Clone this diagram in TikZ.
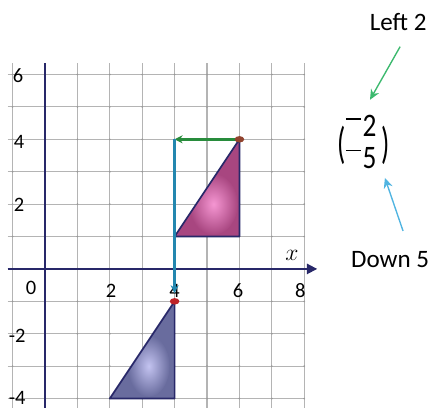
\documentclass[tikz,border=0pt]{standalone}
\usepackage{fontspec}
\usepackage{graphicx}
\setmainfont{Carlito}
\usetikzlibrary{arrows.meta,positioning,calc}
\definecolor{axisnavy}{RGB}{40,40,105}
\definecolor{gridgray}{RGB}{180,180,180}
\definecolor{pinkfill}{RGB}{168,70,128}
\definecolor{pinkglow}{RGB}{245,150,210}
\definecolor{bluefill}{RGB}{105,108,158}
\definecolor{blueglow}{RGB}{195,195,240}
\definecolor{movegreen}{RGB}{40,140,60}
\definecolor{moveteal}{RGB}{35,135,175}
\definecolor{notegreen}{RGB}{60,185,110}
\definecolor{noteblue}{RGB}{80,180,225}
\definecolor{dotred}{RGB}{190,35,40}
\tikzset{
    gridline/.style={draw=gridgray, line width=1pt},
    axisline/.style={draw=axisnavy, line width=1.6pt},
    shapeline/.style={draw=axisnavy, line width=1.5pt, line join=round},
    numlabel/.style={font={\fontsize{18pt}{20}\selectfont}, inner sep=0pt},
    notelabel/.style={font={\fontsize{22pt}{24}\selectfont}, inner sep=1pt},
    movearrow/.style={line width=2.2pt, -{Stealth[length=7pt,width=7pt]}},
    notearrow/.style={line width=1.2pt, -{Stealth[length=9pt,width=8pt]}},
}
\newcommand{\upminus}{\rule[0.52em]{0.55em}{0.045em}\hspace{0.06em}}
\newcommand{\tallparen}[1]{\vcenter{\hbox{\scalebox{1}[1.35]{#1}}}}
\begin{document}
\begin{tikzpicture}
\useasboundingbox (-1.389,-4.29) rectangle (11.944,8.30);

\foreach \x in {-1,...,8}
    \draw[gridline] (\x,-4.3) -- (\x,6.35);
\foreach \y in {-4,...,6}
    \draw[gridline] (-1.15,\y) -- (8,\y);
\foreach \x in {-1,...,8}
    \foreach \y in {-4,...,6}
        \fill[gridgray!85!black] (\x,\y) circle (0.03);

\draw[axisline] (0,-4.3) -- (0,6.35);
\draw[axisline,-{Triangle[length=9pt,width=9pt]}] (-1.15,0) -- (8.4,0);
\node (xlab) at (7.62,0.43) {\fontsize{20pt}{22}\selectfont$x$};

\node[numlabel] (ysix) at (-0.83,5.95) {6};
\node[numlabel] (yfour) at (-0.8,3.93) {4};
\node[numlabel] (ytwo) at (-0.8,1.97) {2};
\node[numlabel] (zero) at (-0.43,-0.59) {0};
\node[numlabel] (ymtwo) at (-0.86,-2.06) {-2};
\node[numlabel] (ymfour) at (-0.86,-3.98) {-4};
\node[numlabel] (xtwo) at (2.04,-0.68) {2};
\node[numlabel] (xfour) at (4,-0.68) {4};
\node[numlabel] (xsix) at (5.96,-0.68) {6};
\node[numlabel] (xeight) at (7.88,-0.68) {8};

% object and image
\coordinate (P) at (4,1);
\coordinate (Q) at (6,1);
\coordinate (R) at (6,4);
\coordinate (P') at (2,-4);
\coordinate (Q') at (4,-4);
\coordinate (R') at (4,-1);
\coordinate (turn) at (4,4);
\coordinate (stop) at (4,-0.75);

\fill[pinkfill] (P) -- (Q) -- (R) -- cycle;
\begin{scope}
\clip (P) -- (Q) -- (R) -- cycle;
\shade[inner color=pinkglow, outer color=pinkfill] (5.2,2.0) ellipse (0.75 and 0.95);
\end{scope}
\draw[shapeline] (P) -- (Q) -- (R) -- cycle;

\fill[bluefill] (P') -- (Q') -- (R') -- cycle;
\begin{scope}
\clip (P') -- (Q') -- (R') -- cycle;
\shade[inner color=blueglow, outer color=bluefill] (3.2,-3.0) ellipse (0.65 and 0.95);
\end{scope}
\draw[shapeline] (P') -- (Q') -- (R') -- cycle;

\draw[movearrow,draw=movegreen,color=movegreen] (R) -- (turn);
\draw[movearrow,draw=moveteal,color=moveteal] (turn) -- (stop);
\fill[dotred] (R') ellipse (0.15 and 0.1);
\fill[dotred!70!movegreen] (R) ellipse (0.15 and 0.1);

% column vector
\node[notelabel] (left) at (10.9,7.62) {Left 2};
\node[notelabel] (down) at (10.65,0.28) {Down 5};
\node (vec) at (9.83,3.8) {\scalebox{1}[1.2]{\fontsize{24pt}{24pt}\selectfont
    $\tallparen{(}\vcenter{\hbox{\begin{tabular}{@{}c@{}}\upminus2\\[-1pt]\upminus5\end{tabular}}}\,\tallparen{)}$}};
\coordinate (lefttip) at (10.03,5.22);
\coordinate (downtip) at (10.49,2.81);
\draw[notearrow,draw=notegreen,color=notegreen] ($(left.south)+(0.06,-0.45)$) -- (lefttip);
\draw[notearrow,draw=noteblue,color=noteblue] ($(down.north)+(0.4,0.6)$) -- (downtip);
\end{tikzpicture}
\end{document}
